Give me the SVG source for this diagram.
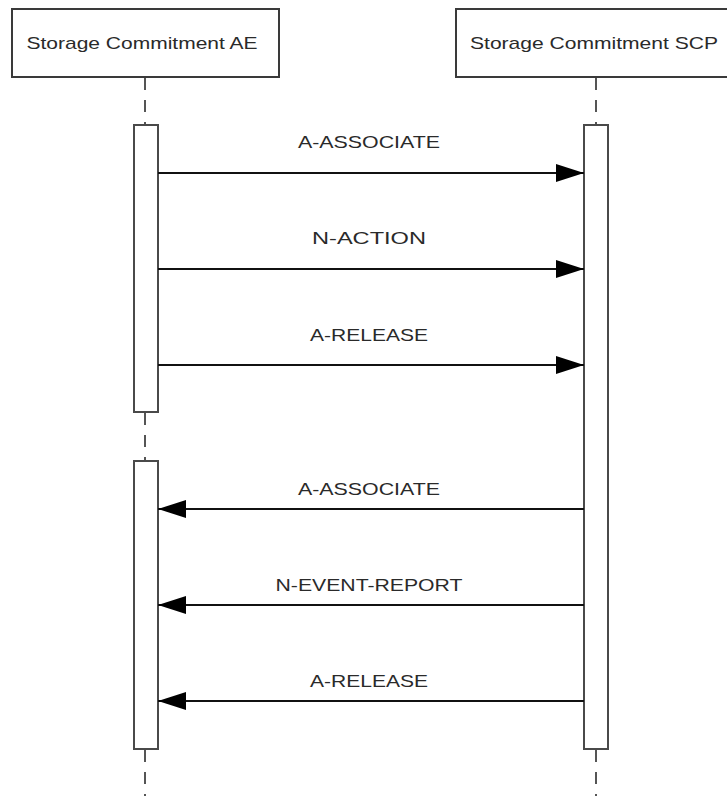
<svg xmlns="http://www.w3.org/2000/svg" width="727" height="796" viewBox="0 0 727 796">
<style>
.bg{fill:#ffffff}
.actor{fill:#ffffff;stroke:#3a3a3a;stroke-width:2}
.act{fill:#ffffff;stroke:#4a4a4a;stroke-width:2}
.life{stroke:#555555;stroke-width:2;stroke-dasharray:12 10;fill:none}
.msg{stroke:#111111;stroke-width:2;fill:none}
text{font-family:"Liberation Sans",Arial,sans-serif;font-size:17px;fill:#2a2a2a}
</style>
<defs>
<marker id="ah" markerUnits="userSpaceOnUse" markerWidth="28" markerHeight="20" refX="28" refY="10" orient="auto">
<path d="M0,1 L28,10 L0,19 Z" fill="#000000"/>
</marker>
</defs>
<rect class="bg" x="0" y="0" width="727" height="796"/>
<g id="lifelines">
<line class="life" x1="145" y1="78" x2="145" y2="125"/>
<line class="life" x1="145" y1="413" x2="145" y2="461"/>
<line class="life" x1="145" y1="750" x2="145" y2="796"/>
<line class="life" x1="596" y1="78" x2="596" y2="125"/>
<line class="life" x1="596" y1="750" x2="596" y2="796"/>
</g>
<g id="ae">
<rect class="actor" x="12" y="9" width="267" height="68"/>
<text x="142" y="49" text-anchor="middle" textLength="231" lengthAdjust="spacingAndGlyphs">Storage Commitment AE</text>
</g>
<g id="scp">
<rect class="actor" x="456" y="9" width="285" height="68"/>
<text x="594" y="49" text-anchor="middle" textLength="248" lengthAdjust="spacingAndGlyphs">Storage Commitment SCP</text>
</g>
<g id="ae-act1"><rect class="act" x="134" y="125" width="24" height="287"/></g>
<g id="ae-act2"><rect class="act" x="134" y="461" width="24" height="288"/></g>
<g id="scp-act"><rect class="act" x="584" y="125" width="24" height="624"/></g>
<g id="connectors">
<line class="msg" x1="158" y1="173" x2="584" y2="173" marker-end="url(#ah)"/>
<line class="msg" x1="158" y1="269" x2="584" y2="269" marker-end="url(#ah)"/>
<line class="msg" x1="158" y1="365" x2="584" y2="365" marker-end="url(#ah)"/>
<line class="msg" x1="584" y1="509" x2="158" y2="509" marker-end="url(#ah)"/>
<line class="msg" x1="584" y1="605" x2="158" y2="605" marker-end="url(#ah)"/>
<line class="msg" x1="584" y1="701" x2="158" y2="701" marker-end="url(#ah)"/>
<text x="369" y="148" text-anchor="middle" textLength="142" lengthAdjust="spacingAndGlyphs">A-ASSOCIATE</text>
<text x="369" y="244" text-anchor="middle" textLength="114" lengthAdjust="spacingAndGlyphs">N-ACTION</text>
<text x="369" y="341" text-anchor="middle" textLength="118" lengthAdjust="spacingAndGlyphs">A-RELEASE</text>
<text x="369" y="495" text-anchor="middle" textLength="142" lengthAdjust="spacingAndGlyphs">A-ASSOCIATE</text>
<text x="369" y="591" text-anchor="middle" textLength="187" lengthAdjust="spacingAndGlyphs">N-EVENT-REPORT</text>
<text x="369" y="687" text-anchor="middle" textLength="118" lengthAdjust="spacingAndGlyphs">A-RELEASE</text>
</g>
</svg>
